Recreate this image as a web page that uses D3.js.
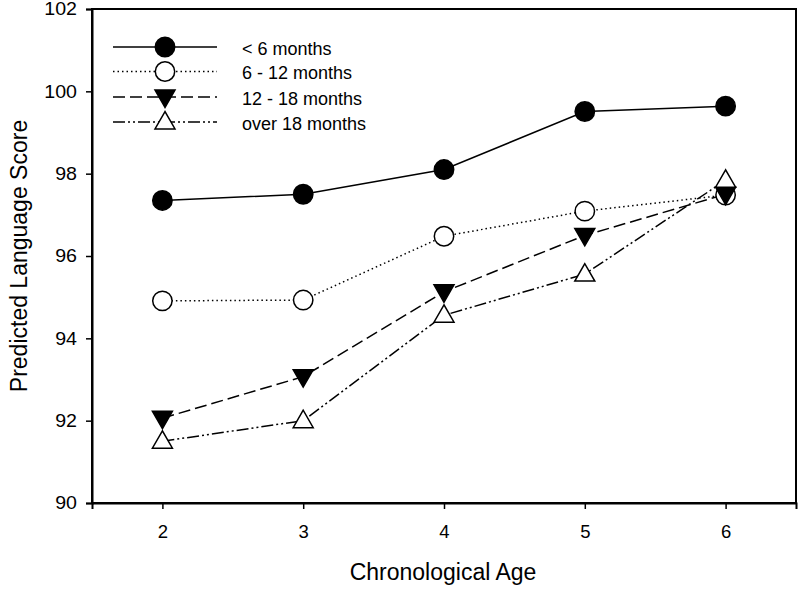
<!DOCTYPE html>
<html><head><meta charset="utf-8">
<script src="https://cdn.jsdelivr.net/npm/d3@7"></script>
<style>body{margin:0;background:#fff}svg{display:block}text{font-family:"Liberation Sans",Arial,sans-serif}</style>
</head><body>
<svg id="c" width="800" height="589"></svg>
<script>
const ages = [2, 3, 4, 5, 6];
const seriesNames = ["< 6 months", "6 - 12 months", "12 - 18 months", "over 18 months"];
const under6 = [97.35, 97.50, 98.10, 99.51, 99.64];
const m6to12 = [94.91, 94.93, 96.48, 97.09, 97.48];
const m12to18 = [92.06, 93.07, 95.13, 96.50, 97.50];
const over18 = [91.50, 92.00, 94.56, 95.56, 97.84];
const yTicks = [90, 92, 94, 96, 98, 100, 102];
const xTicks = [2, 3, 4, 5, 6];

const series = [
  {name: seriesNames[0], values: under6, dash: null, marker: "circle", fill: "#000"},
  {name: seriesNames[1], values: m6to12, dash: "1.5,3", marker: "circle", fill: "#fff"},
  {name: seriesNames[2], values: m12to18, dash: "12,5", marker: "down", fill: "#000"},
  {name: seriesNames[3], values: over18, dash: "12,3,2,3,2,3", marker: "up", fill: "#fff"}
];

const svg = d3.select("#c");
const L = 92, R = 796, T = 9, B = 503;
const x = d3.scaleLinear().domain([1.5, 6.5]).range([L, R]);
const y = d3.scaleLinear().domain([90, 102]).range([B, T]);

// frame
svg.append("rect").attr("x", L).attr("y", T).attr("width", R - L).attr("height", B - T)
  .attr("fill", "none").attr("stroke", "#000").attr("stroke-width", 2);

const xAxis = svg.append("g").attr("transform", `translate(0,${B})`)
  .call(d3.axisBottom(x).tickValues(xTicks).tickSize(6).tickFormat(d3.format("d")));
const yAxis = svg.append("g").attr("transform", `translate(${L},0)`)
  .call(d3.axisLeft(y).tickValues(yTicks).tickSize(6).tickPadding(9).tickFormat(d3.format("d")));
[xAxis, yAxis].forEach(g => {
  g.select(".domain").attr("stroke-width", 2);
  g.selectAll(".tick line").attr("stroke-width", 1.5);
  g.selectAll("text").attr("font-size", 18.5).attr("fill", "#000").style("font-family", '"Liberation Sans",Arial,sans-serif');
});
xAxis.selectAll("text").attr("y", 34.5).attr("dy", 0);
yAxis.selectAll("text").attr("transform", "scale(1.06,1)").attr("x", -15 / 1.06);

svg.append("text").attr("x", 443).attr("y", 580).attr("text-anchor", "middle")
  .attr("font-size", 23).text("Chronological Age");
svg.append("text").attr("transform", "translate(27,256) rotate(-90)").attr("text-anchor", "middle")
  .attr("font-size", 23).text("Predicted Language Score");

const tri = 20;
function drawMarker(g, s, cx, cy) {
  if (s.marker === "circle") {
    g.append("circle").attr("cx", cx).attr("cy", cy).attr("r", 9.7)
      .attr("fill", s.fill).attr("stroke", "#000").attr("stroke-width", 1.5);
  } else {
    const h = tri * 0.87;
    const pts = s.marker === "up"
      ? [[cx, cy - h * 0.6], [cx - tri / 2, cy + h * 0.4], [cx + tri / 2, cy + h * 0.4]]
      : [[cx, cy + h * 0.6], [cx - tri / 2, cy - h * 0.4], [cx + tri / 2, cy - h * 0.4]];
    g.append("polygon").attr("points", pts.map(p => p.join(",")).join(" "))
      .attr("fill", s.fill).attr("stroke", "#000").attr("stroke-width", 1.5);
  }
}

const line = d3.line().x((d, i) => x(ages[i])).y(d => y(d));
series.forEach(s => {
  svg.append("path").attr("d", line(s.values)).attr("fill", "none")
    .attr("stroke", "#000").attr("stroke-width", 1.5)
    .attr("stroke-dasharray", s.dash);
});
series.forEach(s => {
  const g = svg.append("g");
  s.values.forEach((v, i) => drawMarker(g, s, x(ages[i]), y(v)));
});

// legend
const legY = [47, 71.5, 97, 122];
series.forEach((s, i) => {
  const g = svg.append("g");
  g.append("line").attr("x1", 113).attr("x2", 217).attr("y1", legY[i]).attr("y2", legY[i])
    .attr("stroke", "#000").attr("stroke-width", 1.5).attr("stroke-dasharray", s.dash);
  drawMarker(g, s, 165, legY[i]);
  g.append("text").attr("x", 242).attr("y", legY[i] + 7.5).attr("font-size", 18).text(s.name);
});
</script>
</body></html>
